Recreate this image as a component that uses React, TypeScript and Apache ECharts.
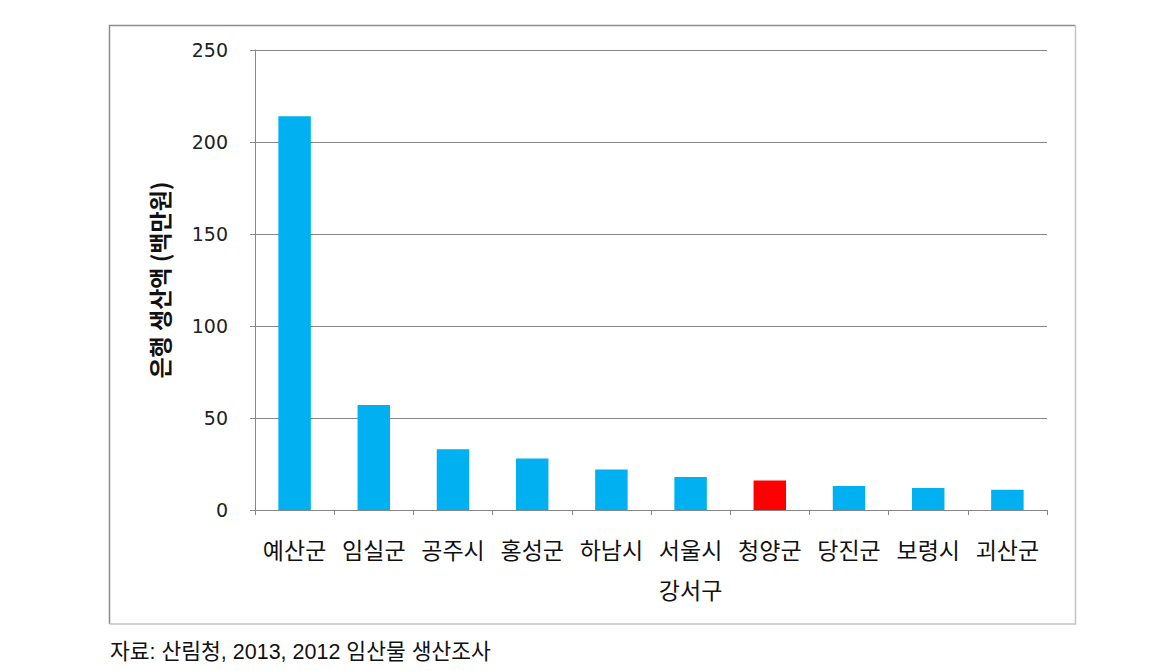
import React, { useEffect, useRef } from "react";
import * as echarts from "echarts";

const categories = ["예산군", "임실군", "공주시", "홍성군", "하남시", "서울시\n강서구", "청양군", "당진군", "보령시", "괴산군"];
const values = [214, 57, 33, 28, 22, 18, 16, 13, 12, 11];
const highlighted = ["청양군"];
const yTicks = { min: 0, max: 250, interval: 50 };
const yTitle = "은행 생산액 (백만원)";
const caption = "자료: 산림청, 2013, 2012 임산물 생산조사";

const FONT = "'Noto Sans CJK KR', 'Noto Sans', sans-serif";

export default function App() {
  const ref = useRef<HTMLDivElement>(null);
  useEffect(() => {
    if (!ref.current) return;
    const chart = echarts.init(ref.current, undefined, { renderer: "svg" });
    chart.setOption({
      animation: false,
      backgroundColor: "#ffffff",
      textStyle: { fontFamily: FONT },
      grid: { left: 255, right: 124, top: 50, bottom: 161, containLabel: false },
      xAxis: {
        type: "category",
        data: categories,
        axisLine: { show: true, lineStyle: { color: "#868686", width: 1 } },
        axisTick: { show: true, length: 5, inside: false, lineStyle: { color: "#868686" } },
        axisLabel: {
          color: "#111",
          fontSize: 23,
          fontFamily: FONT,
          margin: 19,
          lineHeight: 40,
          interval: 0,
        },
        splitLine: { show: false },
      },
      yAxis: {
        type: "value",
        min: yTicks.min,
        max: yTicks.max,
        interval: yTicks.interval,
        name: yTitle,
        nameLocation: "middle",
        nameGap: 85,
        nameRotate: 90,
        nameTextStyle: { color: "#111", fontSize: 23, fontWeight: "bold", fontFamily: FONT },
        axisLine: { show: true, lineStyle: { color: "#868686", width: 1 } },
        axisTick: { show: true, length: 5, lineStyle: { color: "#868686" } },
        axisLabel: { color: "#222", fontSize: 19, margin: 27, fontFamily: "'DejaVu Sans', sans-serif" },
        splitLine: { show: true, lineStyle: { color: "#868686", width: 1 } },
      },
      series: [
        {
          type: "bar",
          barWidth: "41%",
          data: values.map((v, i) => ({
            value: v,
            itemStyle: { color: highlighted.includes(categories[i]) ? "#FF0000" : "#00B0F0" },
          })),
        },
      ],
      graphic: [
        {
          type: "polyline",
          shape: { points: [[109.5, 624], [109.5, 25.5], [1075.5, 25.5]] },
          style: { stroke: "#8c8c8c", lineWidth: 1.5, fill: null },
          silent: true,
        },
        {
          type: "polyline",
          shape: { points: [[1075.5, 25.5], [1075.5, 624], [109.5, 624]] },
          style: { stroke: "#c4c4c4", lineWidth: 1.5, fill: null },
          silent: true,
        },
        {
          type: "text",
          left: 110,
          top: 641,
          style: { text: caption, fontSize: 21.5, fill: "#111", fontFamily: "'Liberation Sans', 'Noto Sans CJK KR', sans-serif" },
          silent: true,
        },
      ],
    });
    return () => chart.dispose();
  }, []);
  return <div ref={ref} style={{ position: "absolute", left: 0, top: 0, width: 1171, height: 671 }} />;
}
